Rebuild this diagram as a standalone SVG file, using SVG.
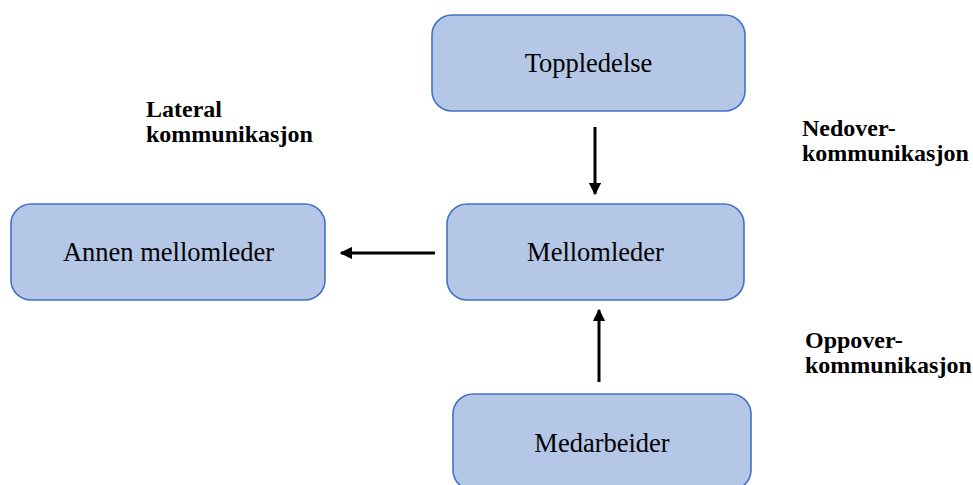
<svg xmlns="http://www.w3.org/2000/svg" width="973" height="485" viewBox="0 0 973 485">
<style>
.box{fill:#b4c7e7;stroke:#4472c4;stroke-width:1.6}
.t{font-family:'Liberation Serif','Times New Roman',Tinos,'DejaVu Serif',serif;font-size:26.5px;fill:#000;text-anchor:middle}
.b{font-family:'Liberation Serif','Times New Roman',Tinos,'DejaVu Serif',serif;font-size:24px;font-weight:bold;fill:#000}
.c{stroke:#000;stroke-width:3;fill:none}
</style>
<defs>
<marker id="ah" viewBox="0 0 10 10" refX="9" refY="5" markerWidth="4.2" markerHeight="4.2" orient="auto" markerUnits="strokeWidth">
<path d="M0,0 L10,5 L0,10 Z" fill="#000"/>
</marker>
</defs>
<rect width="973" height="485" fill="#fff"/>
<g id="toppledelse"><rect class="box" x="432" y="15" width="313" height="96" rx="20"/><text class="t" x="588.5" y="72">Toppledelse</text></g>
<g id="annen"><rect class="box" x="11" y="204" width="314" height="96" rx="20"/><text class="t" x="168.5" y="261">Annen mellomleder</text></g>
<g id="mellomleder"><rect class="box" x="447" y="204" width="297" height="96" rx="20"/><text class="t" x="595.5" y="261">Mellomleder</text></g>
<g id="medarbeider"><rect class="box" x="453" y="394" width="298" height="96" rx="20"/><text class="t" x="602" y="452">Medarbeider</text></g>
<g id="connectors">
<line class="c" x1="595" y1="127" x2="595" y2="194" marker-end="url(#ah)"/>
<line class="c" x1="435" y1="253" x2="341" y2="253" marker-end="url(#ah)"/>
<line class="c" x1="599" y1="382" x2="599" y2="310" marker-end="url(#ah)"/>
</g>
<g id="labels">
<text class="b" x="146" y="117">Lateral</text>
<text class="b" x="146" y="142">kommunikasjon</text>
<text class="b" x="802" y="136">Nedover-</text>
<text class="b" x="802" y="161">kommunikasjon</text>
<text class="b" x="805" y="348">Oppover-</text>
<text class="b" x="805" y="373">kommunikasjon</text>
</g>
</svg>
